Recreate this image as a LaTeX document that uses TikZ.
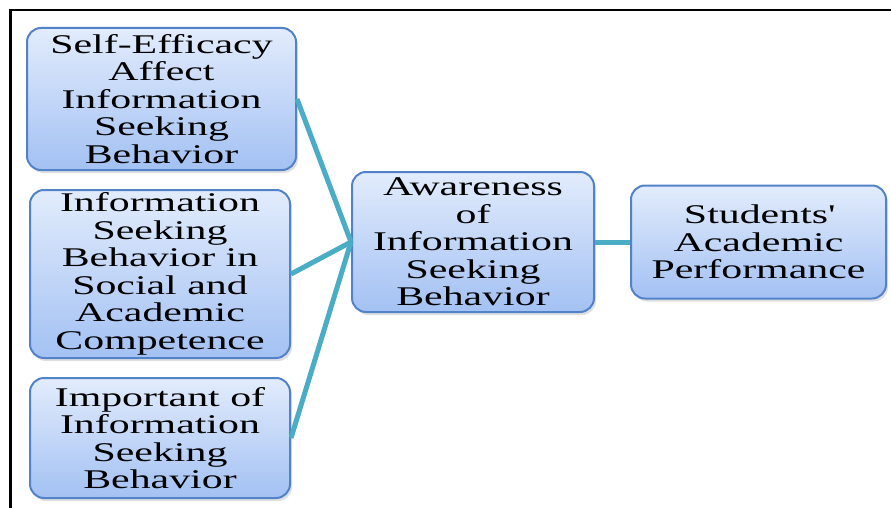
\documentclass[tikz,border=0pt]{standalone}
\usepackage{fontspec}
\setmainfont{Liberation Serif}[FakeStretch=1.55]
\usepackage{xcolor}
\usetikzlibrary{shadows}

\definecolor{boxtop}{HTML}{E2ECFC}
\definecolor{boxbottom}{HTML}{A3C1F3}
\definecolor{boxedge}{HTML}{5283C8}
\definecolor{linkteal}{HTML}{4BACC6}

\begin{document}
\begin{tikzpicture}[
                x = 1pt, y = -1pt, % pixel grid of the picture
                line width = 2pt
        ]

        \tikzstyle{box}=[
            draw = boxedge,
            top color = boxtop,
            bottom color = boxbottom,
            rounded corners = 14pt,
            align = center,
            inner sep = 0pt,
            font = \fontsize{27}{27.5}\selectfont,
            drop shadow = {opacity = 0.25, shadow xshift = 2pt, shadow yshift = -3pt}
        ]
        \tikzstyle{link}=[
            draw = linkteal,
            line width = 5pt
        ]

        \useasboundingbox (0,0) rectangle (891,508);

        % frame
        \draw[line width = 2.5pt] (891,10) -- (10.5,10) -- (10.5,508);

        \node[box, minimum width = 269pt, minimum height = 142pt] (SE) at (161.5,99)
            {Self-Efficacy\\Affect\\Information\\Seeking\\Behavior};
        \node[box, minimum width = 260pt, minimum height = 168pt] (ISB) at (160,274)
            {Information\\Seeking\\Behavior in\\Social and\\Academic\\Competence};
        \node[box, minimum width = 260pt, minimum height = 120pt] (IMP) at (160,438)
            {Important of\\Information\\Seeking\\Behavior};
        \node[box, minimum width = 242pt, minimum height = 140pt] (AW) at (473,242)
            {Awareness\\of\\Information\\Seeking\\Behavior};
        \node[box, minimum width = 255pt, minimum height = 113pt] (SAP) at (758.5,242)
            {Students\textquotesingle\\Academic\\Performance};

        \draw[link] (SE.east) -- (AW.west);
        \draw[link] (ISB.east) -- (AW.west);
        \draw[link] (IMP.east) -- (AW.west);
        \draw[link] (AW.east) -- (SAP.west);

\end{tikzpicture}
\end{document}
